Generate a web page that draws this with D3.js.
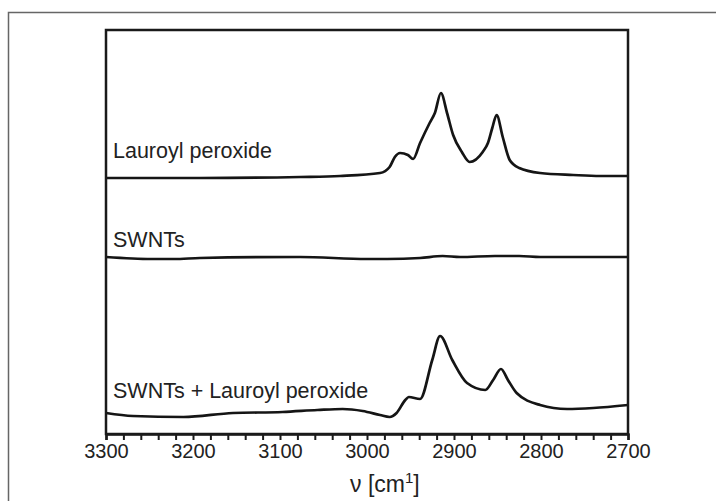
<!DOCTYPE html>
<html>
<head>
<meta charset="utf-8">
<script src="https://cdn.jsdelivr.net/npm/d3@7"></script>
<style>
  body { margin: 0; background: #fff; }
  svg { display: block; font-family: "Liberation Sans", Arial, Helvetica, sans-serif; }
</style>
</head>
<body>
<div id="vis"></div>
<script>
const WIDTH = 716;
const HEIGHT = 501;
const MARGINS = {left: 106, right: 88, top: 30, bottom: 67};

const VIS_WIDTH = WIDTH - MARGINS.left - MARGINS.right;
const VIS_HEIGHT = HEIGHT - MARGINS.top - MARGINS.bottom;

// wavenumber (cm-1) and absorbance (a.u., stacked with offsets)
const lauroylWave = [3300, 3192, 3077, 3031, 2985, 2974, 2968, 2962, 2953, 2947, 2939, 2928, 2922, 2915,
                     2908, 2901, 2891, 2882, 2867, 2861, 2856, 2851, 2844, 2836, 2825, 2801, 2763, 2732, 2700];
const lauroylAbs  = [256, 256, 257, 258, 261, 267, 277, 281, 279, 275, 291, 311, 321, 341,
                     321, 299, 282, 272, 282, 291, 306, 319, 297, 274, 266, 261, 259, 258, 258];

const swntWave = [3300, 3248, 3222, 3192, 3077, 3000, 2977, 2939, 2913, 2893, 2853, 2825, 2801, 2700];
const swntAbs  = [177, 175, 175, 176, 177, 175, 175, 176, 178, 177, 178, 178, 177, 177];

const mixWave = [3300, 3269, 3211, 3154, 3097, 3057, 3028, 3005, 2985, 2974, 2966, 2956, 2952, 2939,
                 2925, 2916, 2902, 2885, 2864, 2855, 2846, 2838, 2828, 2801, 2770, 2740, 2700];
const mixAbs  = [21, 18, 17, 21, 22, 24, 25, 23, 19, 17, 21, 34, 37, 35,
                 74, 98, 74, 51, 44, 54, 65, 54, 41, 29, 25, 26, 29];

const seriesNames = ["Lauroyl peroxide", "SWNTs", "SWNTs + Lauroyl peroxide"];
const tickValues = [3300, 3200, 3100, 3000, 2900, 2800, 2700];

const FRAME = d3.select("#vis")
  .append("svg")
    .attr("width", WIDTH)
    .attr("height", HEIGHT);

// outer figure border
FRAME.append("path")
  .attr("d", "M8.5," + HEIGHT + " V12.5 H" + WIDTH)
  .attr("fill", "none")
  .attr("stroke", "#666")
  .attr("stroke-width", 1.5);

const X_SCALE = d3.scaleLinear()
  .domain([3300, 2700])
  .range([0, VIS_WIDTH]);

const Y_SCALE = d3.scaleLinear()
  .domain([0, VIS_HEIGHT])
  .range([VIS_HEIGHT, 0]);

const g = FRAME.append("g")
  .attr("transform", "translate(" + MARGINS.left + "," + MARGINS.top + ")");

const line = d3.line()
  .x(d => X_SCALE(d[0]))
  .y(d => Y_SCALE(d[1]))
  .curve(d3.curveMonotoneX);

const series = [
  d3.zip(lauroylWave, lauroylAbs),
  d3.zip(swntWave, swntAbs),
  d3.zip(mixWave, mixAbs)
];

g.selectAll(".spec")
  .data(series)
  .enter()
  .append("path")
    .attr("class", "spec")
    .attr("d", line)
    .attr("fill", "none")
    .attr("stroke", "#151515")
    .attr("stroke-width", 2.7)
    .attr("stroke-linejoin", "round");

// series labels
const labelY = [158, 247, 398];
g.selectAll(".lab")
  .data(seriesNames)
  .enter()
  .append("text")
    .attr("class", "lab")
    .attr("x", 7)
    .attr("y", (d, i) => labelY[i] - MARGINS.top)
    .attr("font-size", 21.5)
    .attr("fill", "#222")
    .text(d => d);

// plot frame
g.append("rect")
  .attr("width", VIS_WIDTH)
  .attr("height", VIS_HEIGHT)
  .attr("fill", "none")
  .attr("stroke", "#1a1a1a")
  .attr("stroke-width", 2.5);

// x axis: minor ticks every 20, labels every 100
const xAxis = g.append("g")
  .attr("transform", "translate(0," + VIS_HEIGHT + ")")
  .call(d3.axisBottom(X_SCALE)
    .tickValues(d3.range(3300, 2699, -20))
    .tickSize(6)
    .tickFormat(d => tickValues.includes(d) ? d : ""));

xAxis.select(".domain").attr("stroke", "#1a1a1a").attr("stroke-width", 2.5);
xAxis.selectAll(".tick line").attr("stroke", "#1a1a1a").attr("stroke-width", 2);
xAxis.selectAll(".tick text")
  .attr("font-size", 20)
  .attr("font-family", "Liberation Sans, Arial, sans-serif")
  .attr("fill", "#222")
  .attr("y", 10);

// x axis title
const title = FRAME.append("text")
  .attr("x", 350)
  .attr("y", 492)
  .attr("font-size", 23)
  .attr("fill", "#222");
title.append("tspan").text("\u03bd [cm");
title.append("tspan").attr("dy", -9).attr("font-size", 15).text("1");
title.append("tspan").attr("dy", 9).text("]");
</script>
</body>
</html>
